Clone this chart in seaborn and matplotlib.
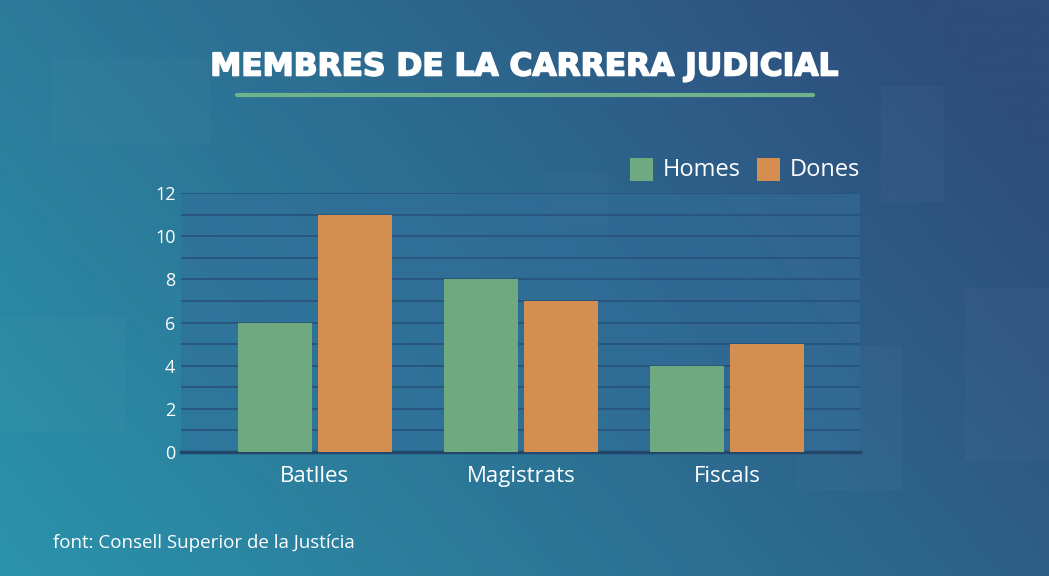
import matplotlib
matplotlib.use("Agg")
import matplotlib.pyplot as plt
import matplotlib.patheffects as pe
from matplotlib.patches import Rectangle
import numpy as np
import pandas as pd
import seaborn as sns

# Chart data
categories = ["Batlles", "Magistrats", "Fiscals"]
homes = [6, 8, 4]
dones = [11, 7, 5]
series = ["Homes", "Dones"]
colors = ["#6fa980", "#d48f50"]

df = pd.DataFrame({
    "categoria": categories * 2,
    "valor": homes + dones,
    "grup": [series[0]] * 3 + [series[1]] * 3,
})

sns.set_theme(style="white")
plt.rcParams["font.family"] = ["Open Sans", "DejaVu Sans"]

fig = plt.figure(figsize=(10.49, 5.76), dpi=100)

# Gradient background (teal bottom-left to dark blue top-right)
bg = fig.add_axes([0, 0, 1, 1], zorder=-10)
xx, yy = np.meshgrid(np.linspace(0, 1, 300), np.linspace(0, 1, 200))
t = np.clip(0.75 * xx + 0.35 * yy, 0, 1)
c0 = np.array([0x2a, 0x93, 0xab]) / 255
c1 = np.array([0x2e, 0x4d, 0x7c]) / 255
img = c0[None, None, :] * (1 - t[..., None]) + c1[None, None, :] * t[..., None]
bg.imshow(img, origin="lower", aspect="auto", extent=[0, 1, 0, 1])
# faint decorative squares
for (x, y, w, h, a) in [(0.84, 0.65, 0.06, 0.2, 0.025), (0.92, 0.2, 0.08, 0.3, 0.025),
                        (0.52, 0.6, 0.06, 0.1, 0.02), (0.0, 0.25, 0.12, 0.2, 0.02),
                        (0.76, 0.15, 0.1, 0.25, 0.02), (0.05, 0.75, 0.15, 0.15, 0.015)]:
    bg.add_patch(Rectangle((x, y), w, h, color="white", alpha=a, lw=0))
bg.set_xlim(0, 1)
bg.set_ylim(0, 1)
bg.axis("off")

ax = fig.add_axes([181 / 1049, 1 - 452 / 576, 679 / 1049, 259 / 576])
ax.set_facecolor((0.20, 0.43, 0.60, 0.55))

sns.barplot(data=df, x="categoria", y="valor", hue="grup", palette=colors,
            width=0.78, gap=0.075, saturation=1, linewidth=0, ax=ax, legend=False, zorder=3)

ax.set_ylim(0, 12)
ax.set_xlim(-0.65, 2.646)
ax.set_yticks(range(0, 13, 2))
ax.set_yticks(range(0, 13), minor=True)
ax.grid(which="both", axis="y", color="#27527a", lw=1.2, zorder=0)
ax.set_axisbelow(True)
for s in ["top", "right", "left"]:
    ax.spines[s].set_visible(False)
ax.spines["bottom"].set_color("#22476b")
ax.spines["bottom"].set_linewidth(2.5)
ax.tick_params(axis="y", which="both", length=0, labelsize=13, labelcolor="white", pad=4)
ax.tick_params(axis="x", length=0, labelsize=16, labelcolor="white", pad=10)
ax.set_xlabel("")
ax.set_ylabel("")

# Title and underline
fig.text(524 / 1049, 1 - 67 / 576, "MEMBRES DE LA CARRERA JUDICIAL", ha="center", va="center",
         color="white", fontsize=22.5, fontweight="bold", family="DejaVu Sans",
         path_effects=[pe.withStroke(linewidth=1.2, foreground="white")])
fig.add_artist(plt.Line2D([237 / 1049, 813 / 1049], [1 - 95 / 576] * 2, color="#6fb38a", lw=3))

# Legend
for i, (lab, col, x0) in enumerate(zip(series, colors, [630, 757])):
    fig.add_artist(Rectangle((x0 / 1049, 1 - 181 / 576), 23 / 1049, 23 / 576, color=col, lw=0))
    fig.text((x0 + 33) / 1049, 1 - 170 / 576, lab, color="white", fontsize=17, va="center")

# Source
fig.text(53 / 1049, 1 - 543 / 576, "font: Consell Superior de la Justícia", color="white",
         fontsize=13.5, va="center")

fig.savefig("out.png", dpi=100)
